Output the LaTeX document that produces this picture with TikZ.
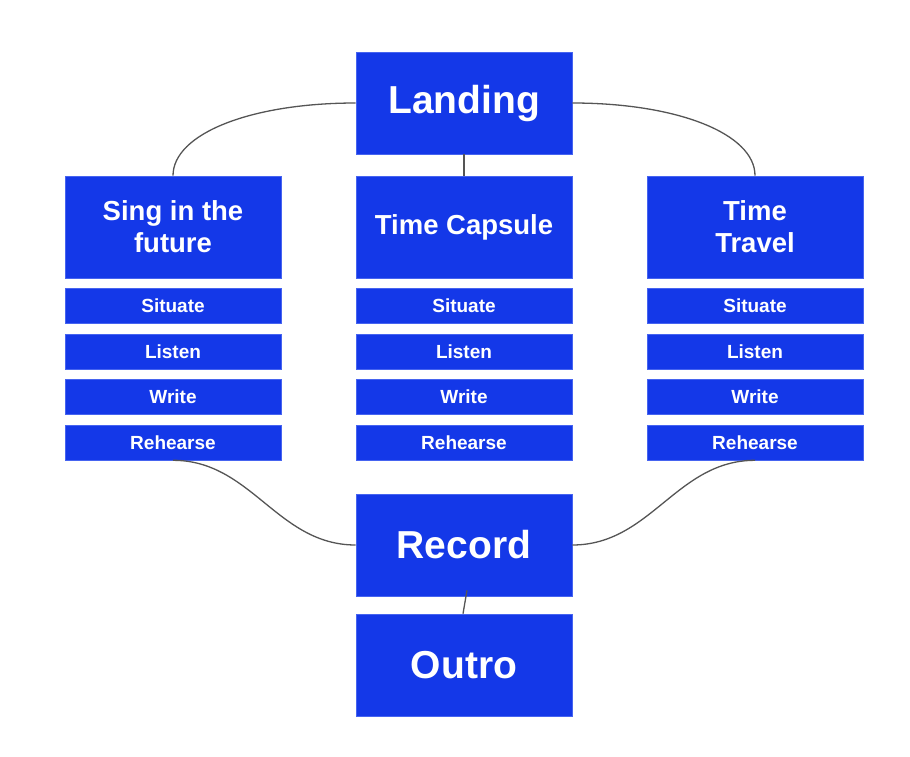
\documentclass[tikz,border=0pt]{standalone}
\usepackage{fontspec}
\setmainfont{Liberation Sans}
\definecolor{boxblue}{RGB}{20,56,232}
\definecolor{edgeblue}{RGB}{70,100,240}
\definecolor{linegray}{RGB}{85,85,85}
\begin{document}
\begin{tikzpicture}[x=1pt,y=-1pt,
  base/.style={fill=boxblue,draw=edgeblue,line width=0.6pt,text=white,font=\bfseries,inner sep=0pt,align=center},
  big/.style={base,minimum width=216pt,minimum height=102pt},
  huge/.style={big,font=\fontsize{39}{44}\selectfont\bfseries},
  mid/.style={big,font=\fontsize{27.5}{32}\selectfont\bfseries},
  small/.style={base,minimum width=216pt,minimum height=35pt,font=\fontsize{19}{22}\selectfont\bfseries},
  link/.style={draw=linegray,line width=1.3pt}]
\useasboundingbox (0,0) rectangle (910,756);
\node[huge] (land) at (464,103) {Landing};
\node[mid] (sing) at (173,227) {Sing in the\\future};
\node[mid] (caps) at (464,227) {Time Capsule};
\node[mid] (trav) at (755,227) {Time\\Travel};
\foreach \c/\n in {173/s,464/c,755/t}{
  \node[small] (\n1) at (\c,305.5) {Situate};
  \node[small] (\n2) at (\c,351.5) {Listen};
  \node[small] (\n3) at (\c,396.5) {Write};
  \node[small] (\n4) at (\c,442.5) {Rehearse};
}
\node[huge] (rec) at (464,545) {Record};
\node[huge] (outro) at (464,665) {Outro};
\draw[link] (land.west) .. controls +(-105,0) and +(0,-42) .. (sing.north);
\draw[link] (land.south) -- (caps.north);
\draw[link] (land.east) .. controls +(105,0) and +(0,-42) .. (trav.north);
\draw[link] (s4.south) to[out=0,in=180] (rec.west);
\draw[link] (t4.south) to[out=180,in=0] (rec.east);
\draw[link] ([xshift=3pt,yshift=6pt]rec.south) -- ([xshift=-1pt]outro.north);
\end{tikzpicture}
\end{document}
